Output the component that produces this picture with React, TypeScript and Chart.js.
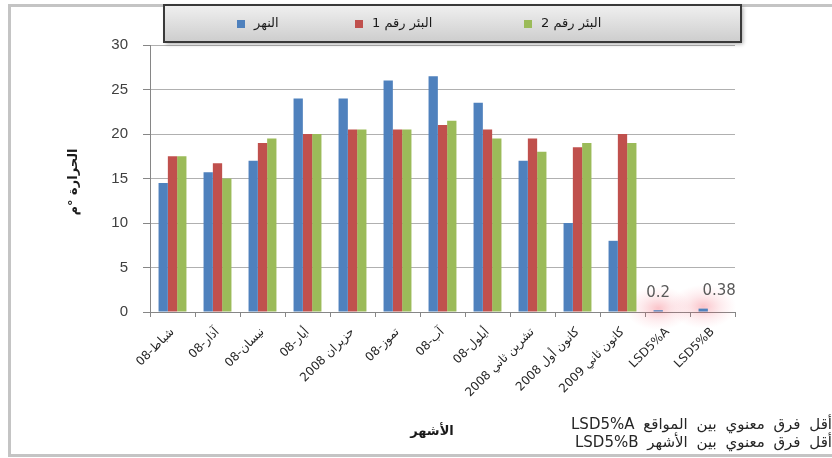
import React, { useEffect, useRef } from "react";
import { Chart, registerables } from "chart.js";

Chart.register(...registerables);

const categories = [
  "شباط-08",
  "آذار-08",
  "نيسان-08",
  "أيار-08",
  "حزيران 2008",
  "تموز-08",
  "آب-08",
  "أيلول-08",
  "تشرين ثاني 2008",
  "كانون أول 2008",
  "كانون ثاني 2009",
  "LSD5%A",
  "LSD5%B",
];
const seriesNames = ["النهر", "البئر رقم 1", "البئر رقم 2"];
const river = [14.5, 15.7, 17, 24, 24, 26, 26.5, 23.5, 17, 10, 8, 0.2, 0.38];
const well1 = [17.5, 16.7, 19, 20, 20.5, 20.5, 21, 20.5, 19.5, 18.5, 20, null, null];
const well2 = [17.5, 15, 19.5, 20, 20.5, 20.5, 21.5, 19.5, 18, 19, 19, null, null];
const yMin = 0;
const yMax = 30;
const yStep = 5;
const lsdIndices = [11, 12];
const yTitle = "الحرارة °م";
const xTitle = "الأشهر";
const notes = [
  "أقل فرق معنوي بين المواقع LSD5%A",
  "أقل فرق معنوي بين الأشهر LSD5%B",
];

const colors = ["#4F81BD", "#C0504D", "#9BBB59"];
const FONT = "'DejaVu Sans', 'Liberation Sans', sans-serif";

const decorPlugin = {
  id: "decor",
  beforeDraw(chart: any) {
    const ctx = chart.ctx;
    ctx.save();
    ctx.fillStyle = "#ffffff";
    ctx.fillRect(0, 0, chart.width, chart.height);
    ctx.strokeStyle = "#c4c4c4";
    ctx.lineWidth = 3;
    ctx.beginPath();
    ctx.moveTo(840, 5.5);
    ctx.lineTo(9.5, 5.5);
    ctx.lineTo(9.5, 455.5);
    ctx.lineTo(840, 455.5);
    ctx.stroke();
    ctx.restore();
  },
  beforeDatasetsDraw(chart: any) {
    const ctx = chart.ctx;
    const meta = chart.getDatasetMeta(0);
    ctx.save();
    lsdIndices.forEach((i) => {
      const el = meta.data[i];
      if (!el) return;
      ctx.save();
      ctx.translate(el.x, el.y - 2);
      ctx.scale(1.5, 1);
      const g = ctx.createRadialGradient(0, 0, 0, 0, 0, 22);
      g.addColorStop(0, "rgba(240,40,60,0.28)");
      g.addColorStop(0.5, "rgba(240,80,100,0.12)");
      g.addColorStop(1, "rgba(255,120,140,0)");
      ctx.fillStyle = g;
      ctx.fillRect(-24, -24, 48, 48);
      ctx.restore();
    });
    ctx.restore();
  },
  afterDatasetsDraw(chart: any) {
    const ctx = chart.ctx;
    const meta = chart.getDatasetMeta(0);
    const offs = [0, 16];
    ctx.save();
    ctx.font = `15px ${FONT}`;
    ctx.fillStyle = "#595959";
    ctx.textAlign = "center";
    ctx.textBaseline = "bottom";
    lsdIndices.forEach((i, k) => {
      const el = meta.data[i];
      if (!el) return;
      ctx.fillText(String(river[i]), el.x + offs[k], el.y - 10);
    });
    ctx.restore();
  },
  afterDraw(chart: any) {
    const ctx = chart.ctx;
    ctx.save();
    const lx = 164, ly = 5, lw = 577, lh = 37;
    ctx.shadowColor = "rgba(0,0,0,0.35)";
    ctx.shadowBlur = 4;
    ctx.shadowOffsetX = 2;
    ctx.shadowOffsetY = 2;
    const grad = ctx.createLinearGradient(0, ly, 0, ly + lh);
    grad.addColorStop(0, "#f0f0f0");
    grad.addColorStop(1, "#cdcdcd");
    ctx.fillStyle = grad;
    ctx.fillRect(lx, ly, lw, lh);
    ctx.shadowColor = "transparent";
    ctx.strokeStyle = "#3a3a3a";
    ctx.lineWidth = 2;
    ctx.strokeRect(lx, ly, lw, lh);
    const itemX = [237, 355, 524];
    ctx.font = `13px ${FONT}`;
    ctx.textBaseline = "middle";
    chart.data.datasets.forEach((ds: any, i: number) => {
      const x = itemX[i];
      ctx.fillStyle = ds.backgroundColor;
      ctx.fillRect(x, 20, 8, 8);
      ctx.fillStyle = "#1a1a1a";
      ctx.direction = "rtl";
      ctx.textAlign = "left";
      ctx.fillText(ds.label, x + 17, 24);
    });
    ctx.save();
    ctx.translate(74, 182);
    ctx.rotate(-Math.PI / 2);
    ctx.direction = "rtl";
    ctx.textAlign = "center";
    ctx.textBaseline = "middle";
    ctx.font = `bold 13px ${FONT}`;
    ctx.fillStyle = "#1a1a1a";
    ctx.fillText(yTitle, 0, 0);
    ctx.restore();
    ctx.direction = "rtl";
    ctx.textAlign = "center";
    ctx.textBaseline = "middle";
    ctx.font = `bold 13px ${FONT}`;
    ctx.fillStyle = "#1a1a1a";
    ctx.fillText(xTitle, 432, 432);
    ctx.font = `15px ${FONT}`;
    (ctx as any).wordSpacing = "4px";
    ctx.fillStyle = "#262626";
    ctx.textAlign = "right";
    notes.forEach((t, i) => {
      ctx.fillText(t, 832, 425 + i * 18);
    });
    ctx.restore();
  },
};

export default function App() {
  const ref = useRef<HTMLCanvasElement | null>(null);
  useEffect(() => {
    document.body.style.margin = "0";
    const canvas = ref.current;
    if (!canvas) return;
    const chart = new Chart(canvas, {
      type: "bar",
      data: {
        labels: categories,
        datasets: [river, well1, well2].map((d, i) => ({
          label: seriesNames[i],
          data: d,
          backgroundColor: colors[i],
          borderWidth: 0,
          categoryPercentage: 0.62,
          barPercentage: 1,
        })),
      },
      options: {
        responsive: false,
        animation: false,
        devicePixelRatio: 1,
        layout: { padding: { left: 0, right: 97, top: 45, bottom: 0 } },
        plugins: {
          legend: { display: false },
          tooltip: { enabled: false },
          title: { display: false },
        },
        scales: {
          x: {
            afterFit(scale: any) {
              scale.height = 146;
            },
            grid: {
              display: true,
              drawOnChartArea: false,
              drawTicks: true,
              tickLength: 5,
              color: "#868686",
              offset: true,
            },
            border: { color: "#868686", width: 1 },
            ticks: {
              autoSkip: false,
              maxRotation: 45,
              minRotation: 45,
              padding: 8,
              color: "#262626",
              font: { family: FONT, size: 12 },
            },
          },
          y: {
            min: yMin,
            max: yMax,
            afterFit(scale: any) {
              scale.width = 150;
            },
            ticks: {
              stepSize: yStep,
              padding: 15,
              color: "#404040",
              font: { family: "'Liberation Sans', sans-serif", size: 15 },
            },
            grid: {
              color: "#b0b0b0",
              tickLength: 7,
              tickColor: "#868686",
            },
            border: { color: "#868686", width: 1 },
          },
        },
      },
      plugins: [decorPlugin],
    } as any);
    return () => chart.destroy();
  }, []);
  return (
    <div style={{ width: 832, height: 458 }}>
      <canvas ref={ref} width={832} height={458} style={{ display: "block" }} />
    </div>
  );
}
